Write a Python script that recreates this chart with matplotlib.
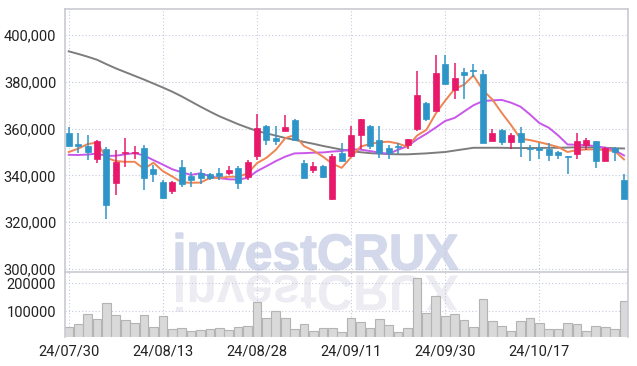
import numpy as np
import matplotlib
matplotlib.use('Agg')
from matplotlib import pyplot as plt
from matplotlib import font_manager
from matplotlib.font_manager import FontProperties
from matplotlib.textpath import TextPath
from matplotlib.patches import PathPatch
from matplotlib.transforms import Affine2D

# trading days shown on the chart
dates = ['24/07/30', '24/07/31', '24/08/01', '24/08/02', '24/08/05', '24/08/06', '24/08/07', '24/08/08',
         '24/08/09', '24/08/12', '24/08/13', '24/08/14', '24/08/16', '24/08/19', '24/08/20', '24/08/21',
         '24/08/22', '24/08/23', '24/08/26', '24/08/27', '24/08/28', '24/08/29', '24/08/30', '24/09/02',
         '24/09/03', '24/09/04', '24/09/05', '24/09/06', '24/09/09', '24/09/10', '24/09/11', '24/09/12',
         '24/09/13', '24/09/19', '24/09/20', '24/09/23', '24/09/24', '24/09/25', '24/09/26', '24/09/27',
         '24/09/30', '24/10/02', '24/10/04', '24/10/07', '24/10/08', '24/10/10', '24/10/11', '24/10/14',
         '24/10/15', '24/10/16', '24/10/17', '24/10/18', '24/10/21', '24/10/22', '24/10/23', '24/10/24',
         '24/10/25', '24/10/28', '24/10/29', '24/10/30']

# prices in thousands
opens = [358.0, 353.4, 352.4, 346.9, 351.4, 336.6, 349.5, 349.5, 351.5, 342.9,
         337.2, 333.2, 343.4, 339.9, 341.1, 340.5, 340.8, 341.1, 343.2, 339.4,
         348.2, 361.0, 355.8, 358.9, 363.5, 345.4, 342.2, 344.2, 330.0, 349.4,
         348.2, 357.1, 361.0, 355.0, 351.5, 352.7, 352.8, 359.7, 371.0, 367.5,
         387.7, 376.5, 384.3, 385.0, 383.3, 354.7, 359.2, 354.2, 358.3, 351.8,
         351.8, 351.4, 349.8, 348.4, 349.3, 353.1, 354.5, 346.1, 351.8, 338.2]
highs = [360.8, 358.0, 357.1, 355.1, 352.3, 350.8, 356.1, 352.5, 352.8, 344.4,
         337.8, 337.4, 346.4, 341.4, 342.8, 341.0, 343.2, 343.9, 344.2, 346.5,
         366.1, 361.4, 361.1, 365.8, 364.3, 346.5, 345.6, 344.6, 349.2, 354.0,
         361.1, 364.0, 361.7, 361.1, 352.9, 354.0, 355.4, 384.7, 371.4, 391.5,
         391.5, 387.9, 386.1, 387.6, 385.1, 359.7, 359.7, 358.0, 360.7, 353.2,
         354.0, 354.0, 350.4, 348.4, 358.0, 356.0, 354.8, 352.0, 352.2, 340.4]
lows = [352.2, 349.7, 346.5, 345.4, 321.4, 331.4, 343.7, 346.8, 333.9, 337.2,
        330.0, 332.2, 335.1, 335.1, 336.1, 337.8, 337.8, 340.2, 334.2, 337.8,
        346.5, 353.1, 353.1, 358.9, 355.0, 338.8, 340.8, 338.8, 329.6, 346.1,
        348.0, 351.1, 351.1, 347.5, 346.8, 349.0, 351.1, 358.9, 363.4, 367.5,
        379.1, 372.5, 372.8, 381.9, 353.8, 354.7, 353.2, 351.4, 348.0, 346.1,
        346.8, 346.1, 347.1, 340.7, 346.8, 350.8, 343.2, 346.0, 346.1, 330.0]
closes = [352.5, 352.4, 349.9, 354.5, 327.2, 345.6, 350.2, 350.2, 338.8, 340.5,
          330.4, 337.2, 336.1, 337.8, 338.7, 338.8, 339.9, 342.2, 336.8, 345.9,
          360.1, 355.1, 354.7, 360.8, 355.3, 338.8, 344.2, 339.4, 348.2, 346.1,
          357.1, 364.0, 352.5, 349.7, 349.4, 352.0, 355.4, 374.3, 364.0, 384.0,
          379.1, 381.6, 383.0, 384.6, 353.8, 358.3, 354.2, 357.1, 354.2, 351.2,
          350.8, 348.9, 348.6, 347.8, 354.5, 355.0, 346.1, 351.8, 350.1, 330.0]

# moving averages (thousands)
ma5 = [350.0, 351.4, 353.4, 354.0, 347.5, 346.1, 345.8, 345.8, 342.8, 345.4,
       341.8, 339.5, 337.0, 336.8, 336.9, 338.9, 338.9, 339.4, 339.4, 340.8,
       345.2, 347.5, 350.9, 355.9, 357.3, 352.5, 350.6, 348.0, 345.0, 343.2,
       347.8, 352.3, 353.4, 354.2, 354.4, 353.6, 352.2, 357.0, 359.5, 366.5,
       372.0, 377.0, 378.8, 382.8, 376.5, 372.5, 366.8, 361.5, 355.7, 355.1,
       354.2, 353.2, 352.1, 350.0, 350.8, 351.1, 351.1, 350.8, 350.4, 346.8]
ma20 = [348.8, 348.7, 348.9, 349.3, 348.3, 348.4, 349.0, 349.5, 348.5, 346.5,
        344.6, 342.6, 341.3, 340.2, 340.9, 339.6, 338.8, 338.3, 338.2, 338.9,
        341.8, 343.9, 346.1, 348.0, 349.4, 349.5, 349.7, 349.8, 350.2, 350.4,
        351.2, 351.0, 350.4, 349.7, 349.2, 351.0, 352.5, 355.4, 357.8, 360.5,
        363.3, 364.6, 367.3, 370.0, 371.8, 372.1, 372.3, 371.1, 369.4, 366.1,
        362.4, 360.4, 357.1, 353.2, 353.1, 352.9, 352.5, 351.8, 350.8, 348.5]
ma60 = [393.1, 392.0, 390.8, 389.5, 387.6, 385.8, 384.2, 382.6, 381.0, 379.3,
        377.6, 375.8, 373.8, 371.6, 369.4, 367.3, 365.3, 363.6, 361.9, 360.4,
        359.0, 358.0, 357.0, 356.0, 355.2, 354.3, 353.5, 352.6, 351.8, 351.0,
        350.4, 349.9, 349.5, 349.3, 349.1, 349.0, 349.0, 349.2, 349.4, 349.7,
        350.0, 350.6, 351.2, 351.8, 351.8, 351.8, 351.8, 351.7, 351.7, 351.7,
        351.7, 351.8, 351.8, 351.9, 352.0, 352.0, 351.9, 351.8, 351.6, 351.5]

# volume in thousands of shares
volume = [42.9, 54.6, 90.4, 72.5, 128.6, 86.8, 68.9, 58.2, 86.8, 43.9,
          83.2, 36.8, 39.3, 29.6, 32.1, 36.8, 39.3, 33.2, 42.9, 47.5,
          133.2, 75.0, 101.0, 75.0, 35.7, 54.6, 29.6, 39.3, 39.3, 26.0,
          76.0, 60.7, 39.3, 71.4, 50.0, 26.0, 39.3, 218.0, 92.9, 154.6,
          83.2, 90.4, 68.9, 42.9, 142.9, 64.3, 46.4, 28.6, 64.3, 75.0,
          57.1, 35.7, 35.7, 57.1, 53.6, 28.6, 47.5, 42.9, 35.7, 136.8]

price_ticks = [300000, 320000, 340000, 360000, 380000, 400000]
volume_ticks = [100000, 200000]
date_tick_idx = [0, 10, 20, 30, 40, 50]

UP = '#e8196a'
DOWN = '#2e95c8'
GRID = '#c4cadd'
SPINE = '#cacad2'


def pick_font(names):
    for name in names:
        try:
            font_manager.findfont(FontProperties(family=name), fallback_to_default=False)
            return name
        except Exception:
            continue
    return 'DejaVu Sans'


label_font = pick_font(['Liberation Sans Narrow', 'Roboto', 'Liberation Sans'])
wm_font = pick_font(['Liberation Sans', 'DejaVu Sans'])
plt.rcParams['font.family'] = [label_font, 'DejaVu Sans']

o = np.array(opens) * 1000
h = np.array(highs) * 1000
l = np.array(lows) * 1000
c = np.array(closes) * 1000
x = np.arange(len(dates))
up = c >= o
colors = np.where(up, UP, DOWN)

fig = plt.figure(figsize=(6.37, 3.66), dpi=100)
fig.patch.set_facecolor('white')
ax = fig.add_axes([0.1013, 0.2568, 0.885, 0.7178])
axv = fig.add_axes([0.1013, 0.0784, 0.885, 0.1784], sharex=ax)
for a in (ax, axv):
    a.set_facecolor('none')

# watermark and its reflection (pixel coordinates)
tp = TextPath((0, 0), 'investCRUX', size=50, prop=FontProperties(family=wm_font, weight='bold'))
ext = tp.get_extents()
sx = (458 - 176) / ext.width
sy = (133 - 96) / ext.height
wm = PathPatch(tp, transform=Affine2D().translate(-ext.x0, -ext.y0).scale(sx, sy).translate(176, 96),
               facecolor='#d3d9eb', edgecolor='#d3d9eb', lw=1.0, zorder=-2)
refl = PathPatch(tp, transform=Affine2D().translate(-ext.x0, -ext.y0).scale(sx, -sy).translate(176, 91),
                 facecolor='#ececf2', edgecolor='none', zorder=-2)
fig.add_artist(refl)
fig.add_artist(wm)

# moving averages
ax.plot(x, np.array(ma60) * 1000, color='#7d7d7d', lw=1.4, zorder=2)
ax.plot(x, np.array(ma20) * 1000, color='#c957ea', lw=1.4, zorder=2)
ax.plot(x, np.array(ma5) * 1000, color='#ef8452', lw=1.4, zorder=2)

# candles
ax.vlines(x, l, h, colors=colors, lw=1.1, zorder=3)
body_bottom = np.minimum(o, c)
body_h = np.maximum(np.abs(c - o), 500)
ax.bar(x, body_h, bottom=body_bottom, width=0.64, color=colors, edgecolor=colors, lw=0.5, zorder=4)

# volume
axv.bar(x, np.array(volume) * 1000, width=0.92, color='#d9d9d9', edgecolor='#b4b4b4', lw=0.8, zorder=2)

ax.set_xlim(-0.45, len(dates) - 0.55)
ax.set_ylim(298600, 411100)
axv.set_ylim(7000, 240000)

ax.set_yticks(price_ticks)
ax.set_yticklabels([f'{t:,}' for t in price_ticks])
axv.set_yticks(volume_ticks)
axv.set_yticklabels([str(t) for t in volume_ticks])
axv.set_xticks(date_tick_idx)
axv.set_xticklabels([dates[i] for i in date_tick_idx])
ax.tick_params(axis='x', labelbottom=False)

for a in (ax, axv):
    a.grid(True, linestyle=(0, (1, 2)), color=GRID, lw=0.8, zorder=0)
    a.set_axisbelow(True)
    a.tick_params(length=0, pad=6, labelsize=10.5, labelcolor='#222222')
    for s in a.spines.values():
        s.set_color(SPINE)
        s.set_linewidth(1.2)

axv.spines['top'].set_visible(False)
axv.spines['bottom'].set_visible(False)
axv.tick_params(axis='x', pad=5)

fig.savefig('out.png', dpi=100)
